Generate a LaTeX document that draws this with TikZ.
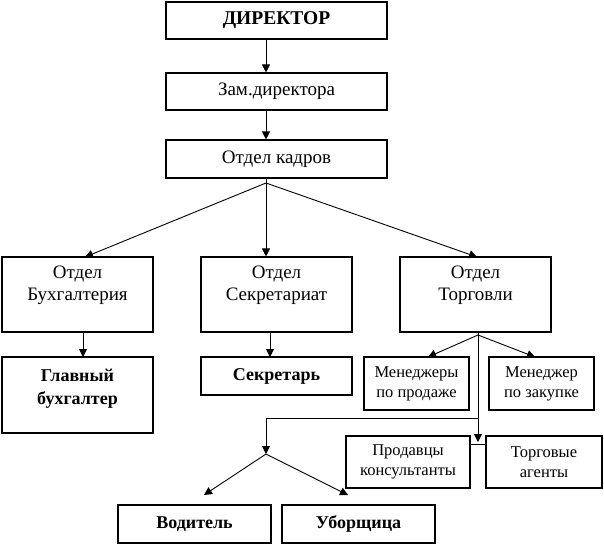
\documentclass[tikz,border=0pt]{standalone}
\usepackage{fontspec}
\setmainfont{Liberation Serif}
\usetikzlibrary{arrows.meta,calc}
\tikzset{
  box/.style={draw, line width=1.1pt, inner sep=0pt, minimum width=#1, align=center},
  conn/.style={line width=0.9pt},
  arr/.style={line width=0.9pt, -{Triangle[length=8pt,width=8pt]}},
  big/.style={font=\fontsize{19}{22}\selectfont},
  bigb/.style={font=\fontsize{18}{23}\selectfont\bfseries},
  small/.style={font=\fontsize{16.5}{20}\selectfont},
}
\newcommand{\topbox}[4]{\parbox[c][#1][t]{#2}{\centering\rule{0pt}{#3}#4}}
\begin{document}
\begin{tikzpicture}[x=1pt,y=-1pt]
\useasboundingbox (0,0) rectangle (604,544);
% level 0-2
\node[box=221pt, minimum height=37pt, bigb, font=\fontsize{19.5}{23}\selectfont\bfseries] (dir) at (276.5,20.5) {ДИРЕКТОР};
\node[box=221pt, minimum height=37pt, big] (zam) at (276.5,91.5) {Зам.директора};
\node[box=221pt, minimum height=38pt, big] (kadr) at (276.5,159) {Отдел кадров};
% level 3
\node[box=151pt, big] (buh) at (77.5,294.5) {\topbox{75pt}{151pt}{21pt}{Отдел\\Бухгалтерия}};
\node[box=151pt, big] (sek) at (276.5,294.5) {\topbox{75pt}{151pt}{21pt}{Отдел\\Секретариат}};
\node[box=151pt, big] (torg) at (475.5,294.5) {\topbox{75pt}{151pt}{21pt}{Отдел\\Торговли}};
% level 4
\node[box=151pt, bigb] (glav) at (77.5,395) {\topbox{76pt}{151pt}{24pt}{Главный\\бухгалтер}};
\node[box=151pt, minimum height=38pt, bigb] (sekr) at (276.5,376) {Секретарь};
\node[box=105pt, minimum height=53pt, small] (menp) at (416.5,383.5) {Менеджеры\\по продаже};
\node[box=105pt, minimum height=53pt, small] (menz) at (541.5,383.5) {Менеджер\\по закупке};
\node[box=124pt, minimum height=52pt, small] (prod) at (408,462) {Продавцы\\консультанты};
\node[box=116pt, minimum height=52pt, small] (agent) at (544,462) {Торговые\\агенты};
\node[box=153pt, minimum height=38pt, bigb] (vod) at (194.5,524) {Водитель};
\node[box=153pt, minimum height=38pt, bigb] (ubor) at (358.5,524) {Уборщица};
% coordinates
\coordinate (kf) at (266,183);
\coordinate (tf) at (478,335);
\coordinate (tl) at (478,418);
\coordinate (ll) at (266,418);
\coordinate (bf) at (266,454);
\coordinate (tdown) at (478,442);
% connectors
\draw[arr] (kf |- dir.south) -- (kf |- zam.north);
\draw[arr] (kf |- zam.south) -- (kf |- kadr.north);
\draw[conn] (kf |- kadr.south) -- (kf);
\draw[arr] (kf) -- (85,257);
\draw[arr] (kf) -- (kf |- sek.north);
\draw[arr] (kf) -- (477,257);
\draw[arr] (83,332) -- (83,357);
\draw[arr] (270,332) -- (270,357);
\draw[conn] (tf |- torg.south) -- (tf);
\draw[arr] (tf) -- (428,357);
\draw[arr] (tf) -- (535,357);
\draw[arr] (tf) -- (tdown);
\draw[conn] (prod.east |- 0,444) -- (agent.west |- 0,444);
\draw[arr] (tl) -- (ll) -- (bf);
\draw[arr] (bf) -- (204,495);
\draw[arr] (bf) -- (348,495);
\end{tikzpicture}
\end{document}
